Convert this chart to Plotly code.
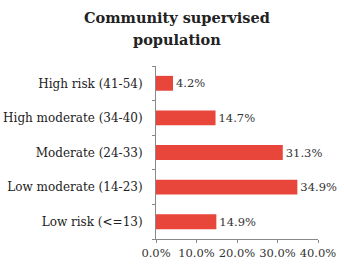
import plotly.graph_objects as go

categories = ["Low risk (<=13)", "Low moderate (14-23)", "Moderate (24-33)",
              "High moderate (34-40)", "High risk (41-54)"]
values = [14.9, 34.9, 31.3, 14.7, 4.2]
labels = ["14.9%", "34.9%", "31.3%", "14.7%", "4.2%"]
tick_vals = [0, 10, 20, 30, 40]
tick_text = ["0.0%", "10.0%", "20.0%", "30.0%", "40.0%"]
title_lines = ["Community supervised", "population"]

font_family = "DejaVu Serif, serif"

PLOT_T, PLOT_B, H = 66, 25, 264
plot_h = H - PLOT_T - PLOT_B


def ypaper(px):
    return (H - PLOT_B - px) / plot_h


fig = go.Figure(go.Bar(
    x=values, y=categories, orientation="h",
    marker=dict(color="#e8453b", line=dict(width=0)),
    text=labels, textposition="outside", cliponaxis=False,
    textfont=dict(family=font_family, size=11.5, color="#333333"),
    width=0.43,
))

fig.update_layout(
    width=344, height=H,
    margin=dict(l=156, r=26, t=PLOT_T, b=PLOT_B, autoexpand=False),
    paper_bgcolor="white", plot_bgcolor="white",
    showlegend=False,
    font=dict(family=font_family, size=12, color="#222222"),
    annotations=[
        dict(text="<b>%s</b>" % title_lines[0], xref="paper", yref="paper",
             x=0.13, y=ypaper(18), xanchor="center", yanchor="middle",
             showarrow=False,
             font=dict(family=font_family, size=14.5, color="#222222")),
        dict(text="<b>%s</b>" % title_lines[1], xref="paper", yref="paper",
             x=0.13, y=ypaper(40), xanchor="center", yanchor="middle",
             showarrow=False,
             font=dict(family=font_family, size=14.5, color="#222222")),
    ],
)
fig.update_xaxes(range=[0, 40], tickvals=tick_vals, ticktext=tick_text,
                 tickangle=0, automargin=False,
                 showgrid=False, zeroline=False, showline=True,
                 linecolor="#888888", linewidth=1, ticks="outside",
                 ticklen=3, tickcolor="#888888",
                 tickfont=dict(family=font_family, size=11.5, color="#333333"))
fig.update_yaxes(automargin=False,
                 showgrid=False, zeroline=False, showline=True,
                 linecolor="#888888", linewidth=1, ticks="outside",
                 tickson="boundaries", ticklen=3, tickcolor="#888888",
                 ticklabelstandoff=10,
                 tickfont=dict(family=font_family, size=12, color="#222222"))

fig.write_html("out.html", config={"displayModeBar": False},
               post_script="document.body.style.margin='0';document.body.style.overflow='hidden';")
